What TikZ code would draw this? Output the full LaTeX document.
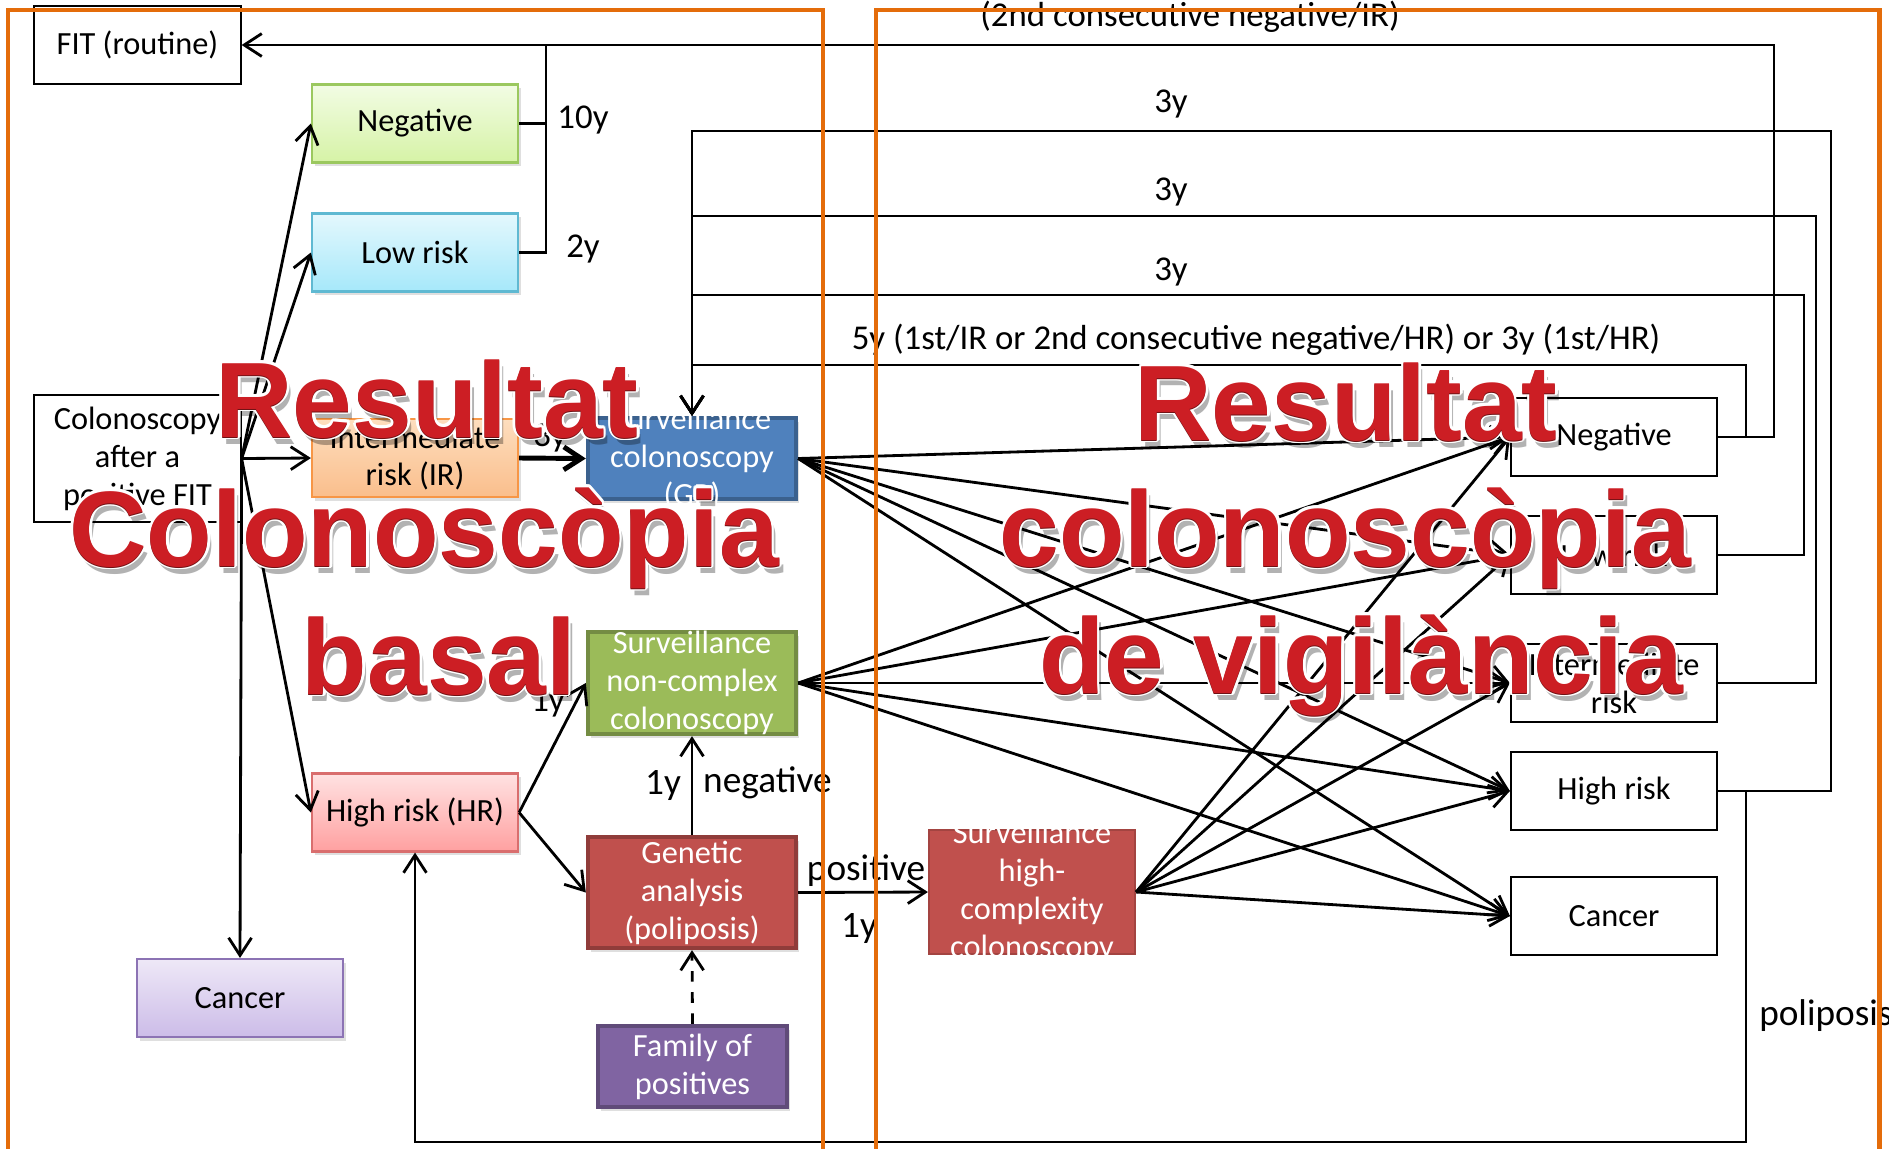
\documentclass[tikz,border=0pt]{standalone}
\usepackage{fontspec}
\setmainfont{Carlito}
\newfontfamily\artfont{Liberation Sans}
\usetikzlibrary{arrows.meta,shadows,calc}

\definecolor{frameorange}{RGB}{228,108,10}
\definecolor{artred}{RGB}{204,30,36}
\definecolor{gpblue}{RGB}{79,129,189}
\definecolor{ncgreen}{RGB}{155,187,89}
\definecolor{genred}{RGB}{192,80,77}
\definecolor{fampurple}{RGB}{128,100,162}

\newcommand{\boxfont}{\fontsize{9.2}{10.8}\selectfont}
\newcommand{\wordart}[3]{%
  \node[arttxt, text=black, opacity=0.3] at ($(#2)+(4,7)$) {#3};
  \foreach \ang in {0,30,...,330}
    \node[arttxt, text=white] at ($(#2)+(\ang:2.6)$) {#3};
  \node[arttxt, text=artred!55!black] at ($(#2)+(0,1.5)$) {#3};
  \node[arttxt, text=artred] (#1) at (#2) {#3};}

\begin{document}
\begin{tikzpicture}[x=0.01cm,y=-0.01cm,
  >={Straight Barb[length=5pt,width=6.5pt]},
  every node/.style={font=\boxfont},
  conn/.style={->, line width=0.8pt},
  box/.style={draw, line width=0.6pt, minimum width=2.06cm, minimum height=0.78cm, inner sep=0pt, align=center},
  softbox/.style={box, drop shadow={shadow xshift=0.8pt, shadow yshift=-1pt, opacity=0.25}},
  darkbox/.style={box, line width=1.2pt, drop shadow={shadow xshift=0.8pt, shadow yshift=-1pt, opacity=0.25}},
  wlbl/.style={align=center, text=white, inner sep=0pt},
  lbl/.style={inner sep=1pt, font=\fontsize{9.9}{11.5}\selectfont},
  biglbl/.style={lbl, font=\fontsize{10.6}{12.5}\selectfont},
  arttxt/.style={font=\artfont\bfseries\fontsize{30.5}{36}\selectfont, inner sep=0pt, anchor=base},
  orangeframe/.style={draw=frameorange, line width=1.4pt}]
\useasboundingbox (0,0) rectangle (1889,1148);

% baseline colonoscopy
\node[box] (fit) at (137.5,45) {FIT (routine)};
\node[box, minimum height=1.27cm] (colo) at (137.5,458.5) {Colonoscopy\\after a\\positive FIT};
\node[softbox, draw={rgb,255:red,155;green,200;blue,95}, top color={rgb,255:red,242;green,252;blue,228}, bottom color={rgb,255:red,214;green,243;blue,166}] (neg0) at (415,123.5) {Negative};
\node[softbox, draw={rgb,255:red,95;green,185;blue,210}, top color={rgb,255:red,228;green,248;blue,253}, bottom color={rgb,255:red,166;green,232;blue,250}] (low0) at (415,252.5) {Low risk};
\node[softbox, draw={rgb,255:red,247;green,150;blue,70}, top color={rgb,255:red,253;green,222;blue,190}, bottom color={rgb,255:red,250;green,190;blue,140}] (ir0) at (415,458) {Intermediate\\risk (IR)};
\node[softbox, draw={rgb,255:red,217;green,110;blue,110}, top color={rgb,255:red,255;green,226;blue,226}, bottom color={rgb,255:red,255;green,160;blue,160}] (hr0) at (415,812.5) {High risk (HR)};
\node[softbox, draw={rgb,255:red,140;green,115;blue,180}, top color={rgb,255:red,238;green,232;blue,247}, bottom color={rgb,255:red,204;green,188;blue,232}] (can0) at (240,998) {Cancer};

\node[darkbox, draw=gpblue!75!black, fill=gpblue, minimum width=2.08cm, minimum height=0.81cm,
  label={[wlbl]center:Surveillance\\colonoscopy\\(GP)}] (gp) at (692,458.5) {};
\node[darkbox, draw=ncgreen!75!black, fill=ncgreen, minimum width=2.08cm, minimum height=1.02cm,
  label={[wlbl]center:Surveillance\\non-complex\\colonoscopy}] (nc) at (692,683) {};
\node[darkbox, draw=genred!75!black, fill=genred, minimum width=2.08cm, minimum height=1.11cm, text=white] (gen) at (692,892.5) {Genetic\\analysis\\(poliposis)};
\node[darkbox, draw=fampurple!75!black, fill=fampurple, minimum width=1.89cm, minimum height=0.81cm, text=white] (fam) at (692.5,1066.5) {Family of\\positives};
\node[box, draw=genred!85!black, fill=genred, minimum height=1.24cm,
  label={[wlbl]center:Surveillance\\high-\\complexity\\colonoscopy}] (hc) at (1032,892) {};

% surveillance results
\node[box] (negR) at (1614,437) {Negative};
\node[box] (lowR) at (1614,555) {Low risk};
\node[box] (irR) at (1614,683) {Intermediate\\risk};
\node[box] (hrR) at (1614,791) {High risk};
\node[box] (canR) at (1614,916) {Cancer};

\foreach \t in {neg0,low0,ir0,hr0}
  \draw[conn] (colo.east) -- (\t.west);
\draw[conn] (colo.east) -- (can0.north);
\draw[line width=0.8pt] (neg0.east) -| (546,45);
\draw[line width=0.8pt] (low0.east) -| (546,45);
\draw[conn] (negR.east) -| (1774,45) -- (fit.east);
\draw[conn, line width=1.4pt] (ir0.east) -- (gp.west);
\draw[conn] (hr0.east) -- (nc.west);
\draw[conn] (hr0.east) -- (gen.west);
\draw[conn] (gen.north) -- (nc.south);
\draw[conn] (gen.east) -- (hc.west);
\draw[conn, dashed] (fam.north) -- (gen.south);

\draw[conn] (hrR.east) -| (1831,131) -| (gp.north);
\draw[conn] (irR.east) -| (1816,216) -| (gp.north);
\draw[conn] (lowR.east) -| (1804,295) -| (gp.north);
\draw[conn] (negR.east) -| (1746,365) -| (gp.north);
\draw[conn] (hrR.east) -| (1746,1142) -| (hr0.south);

\foreach \s in {gp,nc,hc}
  \foreach \t in {negR,lowR,irR,hrR,canR}
    \draw[conn] (\s.east) -- (\t.west);

\node[lbl] (l10) at (583,120) {10y};
\node[lbl] (l2) at (583,249) {2y};
\node[lbl] (lsec) at (1190,17) {(2nd consecutive negative/IR)};
\node[lbl] (lhr) at (1171,104) {3y};
\node[lbl] (lir) at (1171,192) {3y};
\node[lbl] (llow) at (1171,272) {3y};
\node[lbl] (lneg) at (1256,340) {5y (1st/IR or 2nd consecutive negative/HR) or 3y (1st/HR)};
\node[lbl] (lgp) at (550,438) {3y};
\node[lbl] (lnc) at (548,703) {1y};
\node[biglbl] (lgen) at (663,785) {1y};
\node[biglbl, anchor=west] (lneg2) at (699,783) {negative};
\node[biglbl] (lpos) at (866,871) {positive};
\node[biglbl] (lhc) at (859,928) {1y};
\node[biglbl, anchor=west] (lpol) at (1755,1016) {poliposis};

\wordart{resA}{427,437}{Resultat}
\wordart{colA}{424,566}{Colonoscòpia}
\wordart{basA}{439,694}{basal}
\wordart{resB}{1346,440}{Resultat}
\wordart{colB}{1345,566}{colonoscòpia}
\wordart{vigB}{1361,693}{de vigilància}

\draw[orangeframe] (8,10) rectangle (823,1180);
\draw[orangeframe] (876,10) rectangle (1879,1180);
\end{tikzpicture}
\end{document}
